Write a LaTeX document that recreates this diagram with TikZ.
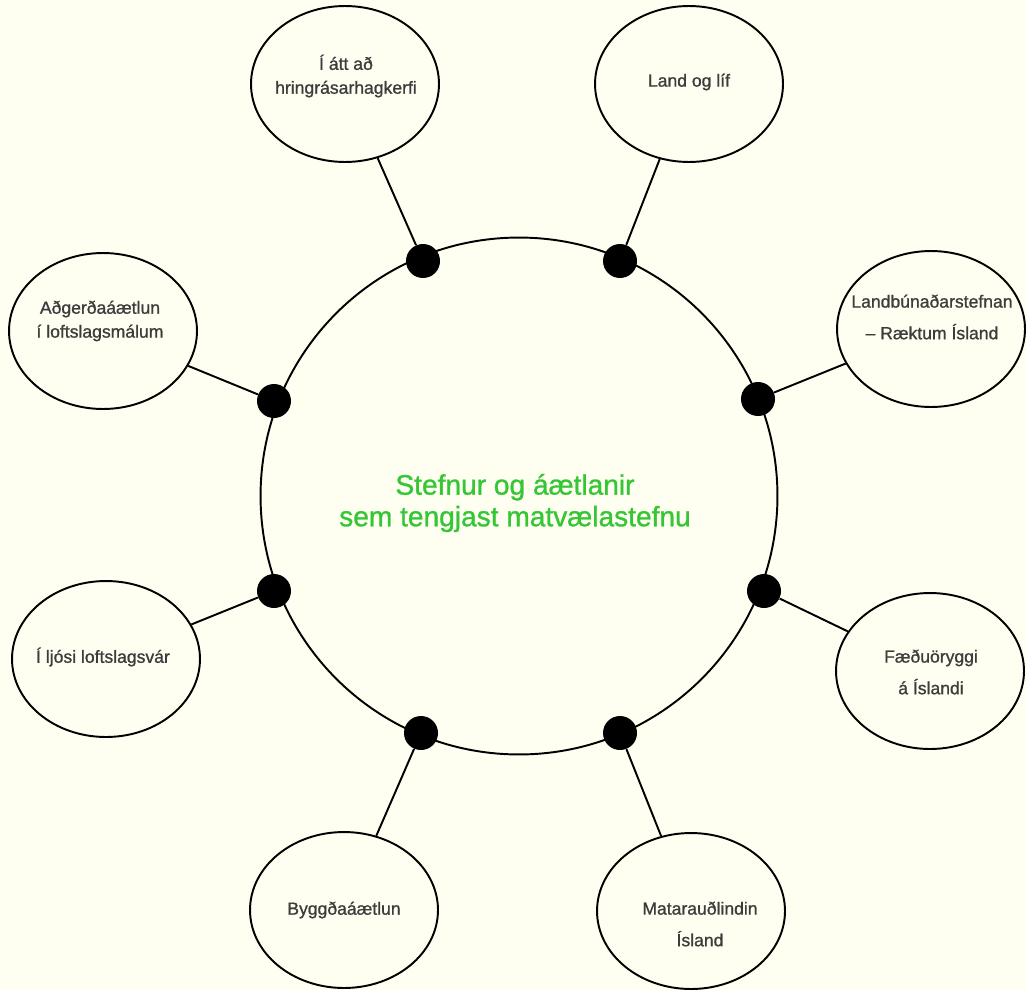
\documentclass[tikz,border=0pt]{standalone}
\usepackage{fontspec}
\setmainfont{Liberation Sans}
\newfontfamily\medfont{Liberation Sans}[FakeBold=1]
\usetikzlibrary{shapes.geometric}
\definecolor{bgcream}{HTML}{FEFFF0}
\definecolor{labelgray}{HTML}{3C3C3C}
\definecolor{titlegreen}{HTML}{34C634}

\begin{document}
\begin{tikzpicture}[x=0.02cm,y=-0.02cm]
            \tikzstyle{dot}=[circle,fill=black,inner sep=0pt,minimum size=0.68cm]
            \tikzstyle{bubble}=[ellipse,line width=1.1pt,draw=black,fill=bgcream,inner sep=0pt,minimum width=3.76cm,minimum height=3.12cm]
            \tikzstyle{txt}=[text=labelgray,align=center,font=\medfont\fontsize{10}{13.6}\selectfont]
            \tikzstyle{txtwide}=[txt,font=\medfont\fontsize{10}{18}\selectfont]
            \fill[bgcream] (0,0) rectangle (1026,990);
            % middle circle and title
            \node (hub) [circle,draw=black,line width=1.1pt,inner sep=0pt,minimum size=10.34cm] at (519,496) {};
            \node (title) at (515,503) [text=titlegreen,align=center,font=\medfont\fontsize{16}{18}\selectfont] {Stefnur og áætlanir\\sem tengjast matvælastefnu};
            % the eight plans, clockwise from top left
            \node (b1) [bubble] at (345,84) {};
            \node (b2) [bubble] at (689,84) {};
            \node (b3) [bubble] at (931,329) {};
            \node (b4) [bubble] at (930,671) {};
            \node (b5) [bubble] at (691,911) {};
            \node (b6) [bubble] at (344,910) {};
            \node (b7) [bubble] at (106,659) {};
            \node (b8) [bubble] at (103,331) {};
            \node (t1) [txt] at (346,76) {Í átt að\\hringrásarhagkerfi};
            \node (t2) [txt] at (689,82) {Land og líf};
            \node (t3) [txtwide] at (932,317) {Landbúnaðarstefnan\\– Ræktum Ísland};
            \node (t4) [txtwide] at (931,672) {Fæðuöryggi\\á Íslandi};
            \node (t5) [txtwide] at (700,924) {Matarauðlindin\\Ísland};
            \node (t6) [txt] at (344,910) {Byggðaáætlun};
            \node (t7) [txt] at (103,657) {Í ljósi loftslagsvár};
            \node (t8) [txt] at (100,321) {Aðgerðaáætlun\\í loftslagsmálum};
            % dots on the circle
            \node (d1) [dot] at (423,261) {};
            \node (d2) [dot] at (620,261) {};
            \node (d3) [dot] at (758,399) {};
            \node (d4) [dot] at (764,591) {};
            \node (d5) [dot] at (620,733) {};
            \node (d6) [dot] at (421,733) {};
            \node (d7) [dot] at (274,591) {};
            \node (d8) [dot] at (274,401) {};
            \foreach \i in {1,...,8}
                \draw[line width=1.1pt] (d\i) -- (b\i);
        \end{tikzpicture}
\end{document}
